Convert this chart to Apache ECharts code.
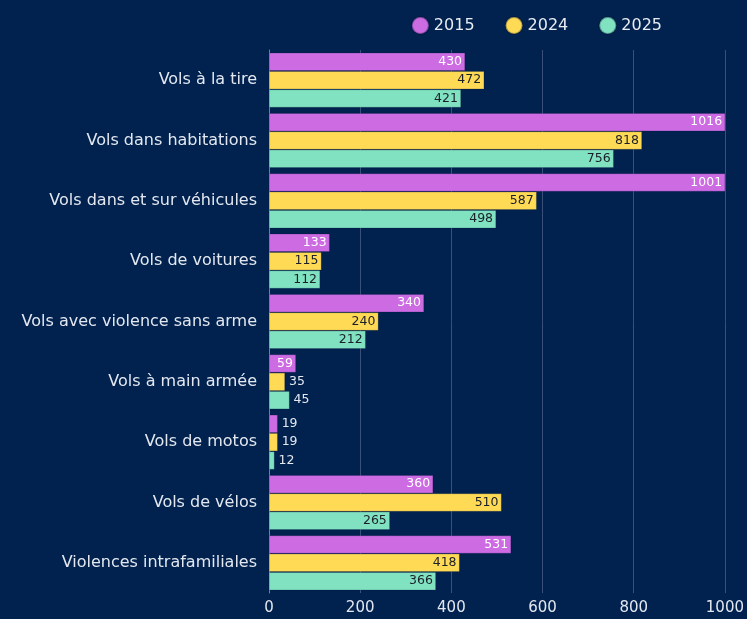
<!DOCTYPE html>
<html>
<head>
<meta charset="utf-8">
<script src="https://cdn.jsdelivr.net/npm/echarts@6/dist/echarts.min.js"></script>
<style>
html, body { margin: 0; padding: 0; background: #01214e; }
#chart { width: 747px; height: 619px; }
</style>
</head>
<body>
<div id="chart"></div>
<script>
// catégories (haut vers bas)
const categories = [
    'Vols à la tire',
    'Vols dans habitations',
    'Vols dans et sur véhicules',
    'Vols de voitures',
    'Vols avec violence sans arme',
    'Vols à main armée',
    'Vols de motos',
    'Vols de vélos',
    'Violences intrafamiliales'
]
const values2015 = [430, 1016, 1001, 133, 340, 59, 19, 360, 531]
const values2024 = [472, 818, 587, 115, 240, 35, 19, 510, 418]
const values2025 = [421, 756, 498, 112, 212, 45, 12, 265, 366]
const xTicks = [0, 200, 400, 600, 800, 1000]

const font = '"DejaVu Sans", sans-serif'

// label dedans si la barre est assez large, sinon à droite
function withLabels(values, insideColor) {
    return values.map(v => ({
        value: v,
        label: v >= 50
            ? { position: 'insideRight', color: insideColor, distance: 3 }
            : { position: 'right', color: '#e3e8f0', distance: 4 }
    }))
}

function makeSeries(name, values, color, insideColor) {
    return {
        name: name,
        type: 'bar',
        barWidth: 18,
        barGap: '2%',
        itemStyle: { color: color, borderColor: 'rgba(0,20,50,0.35)', borderWidth: 0.5 },
        label: { show: true, fontSize: 12.5, fontFamily: font },
        data: withLabels(values, insideColor)
    }
}

const myChart = echarts.init(document.getElementById('chart'))
myChart.setOption({
    backgroundColor: '#01214e',
    animation: false,
    legend: {
        top: 11,
        right: 80,
        icon: 'circle',
        itemWidth: 17,
        itemHeight: 17,
        itemGap: 30,
        textStyle: { color: '#e8ecf3', fontSize: 16, fontFamily: font },
        data: ['2015', '2024', '2025']
    },
    grid: { left: 269, right: 21, top: 50, bottom: 26 },
    xAxis: {
        type: 'value',
        min: 0,
        max: 1000,
        interval: 200,
        axisLine: { show: false },
        axisTick: { show: false },
        axisLabel: {
            color: '#e3e8f0', fontSize: 15, fontFamily: font, margin: 8,
            formatter: v => xTicks.includes(v) ? String(v) : ''
        },
        splitLine: { lineStyle: { color: '#3a5078', width: 1 } }
    },
    yAxis: {
        type: 'category',
        inverse: true,
        data: categories,
        axisLine: { show: true, lineStyle: { color: '#6e7f9c' } },
        axisTick: { show: false },
        axisLabel: { color: '#e3e8f0', fontSize: 16, fontFamily: font, margin: 12 }
    },
    series: [
        makeSeries('2015', values2015, '#cc6be2', '#ffffff'),
        makeSeries('2024', values2024, '#ffda55', '#1b1f2a'),
        makeSeries('2025', values2025, '#80e2c0', '#1b1f2a')
    ]
})
</script>
</body>
</html>
